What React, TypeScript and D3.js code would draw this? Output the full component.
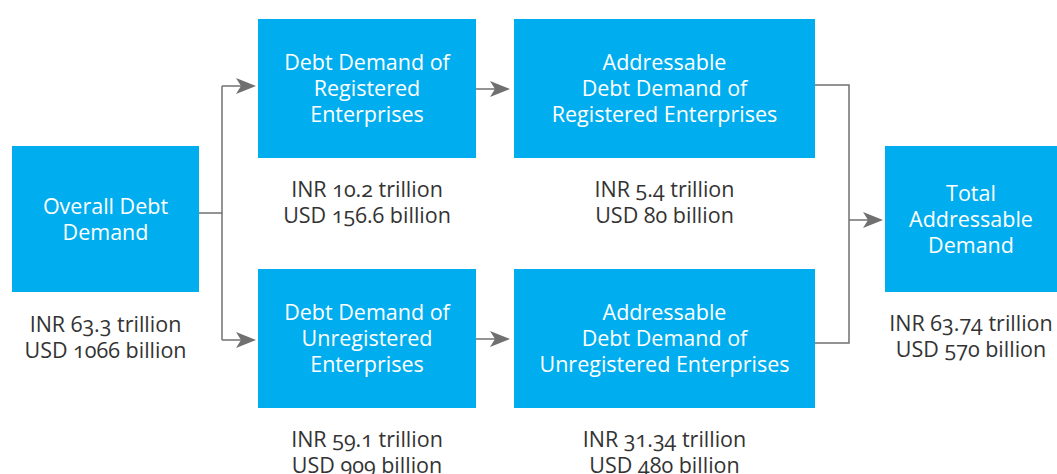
import React from "react";
import * as d3 from "d3";

const nodeIds = ["overall", "reg", "unreg", "addrReg", "addrUnreg", "total"];
const nodeLabels = [
  ["Overall Debt", "Demand"],
  ["Debt Demand of", "Registered", "Enterprises"],
  ["Debt Demand of", "Unregistered", "Enterprises"],
  ["Addressable", "Debt Demand of", "Registered Enterprises"],
  ["Addressable", "Debt Demand of", "Unregistered Enterprises"],
  ["Total", "Addressable", "Demand"],
];
const inrValues = ["INR 63.3 trillion", "INR 10.2 trillion", "INR 59.1 trillion", "INR 5.4 trillion", "INR 31.34 trillion", "INR 63.74 trillion"];
const usdValues = ["USD 1066 billion", "USD 156.6 billion", "USD 909 billion", "USD 80 billion", "USD 480 billion", "USD 570 billion"];
const nodeColumn = [0, 1, 1, 2, 2, 3];
const nodeRow = ["mid", "top", "bottom", "top", "bottom", "mid"];

const W = 1057, H = 474;
const BLUE = "#00AEEF";
const GRAY = "#707070";
const TEXT = "#333333";
const FONT = "'Open Sans', 'Noto Sans', sans-serif";
const FS = 21.5;

// layout scales
const colX0 = d3.scaleOrdinal<number, number>().domain([0, 1, 2, 3]).range([12, 258, 514, 885]);
const colX1 = d3.scaleOrdinal<number, number>().domain([0, 1, 2, 3]).range([199, 476, 815, 1057]);
const rowY0 = d3.scaleOrdinal<string, number>().domain(["top", "mid", "bottom"]).range([19, 146, 269]);
const rowY1 = d3.scaleOrdinal<string, number>().domain(["top", "mid", "bottom"]).range([158, 292, 408]);

const LH = 26;

function box(i: number) {
  const x0 = colX0(nodeColumn[i]);
  const x1 = colX1(nodeColumn[i]);
  const y0 = rowY0(nodeRow[i]);
  const y1 = rowY1(nodeRow[i]);
  return { x0, x1, y0, y1, cx: (x0 + x1) / 2, cy: (y0 + y1) / 2 };
}

function Arrow({ x, y }: { x: number; y: number }) {
  return <path d={`M${x},${y} L${x - 20},${y - 8} L${x - 15},${y} L${x - 20},${y + 8} Z`} fill={GRAY} />;
}

export default function App() {
  const b = nodeIds.map((_, i) => box(i));
  const line = d3.line();
  const splitX = 222;
  const mergeX = 849;
  const o = b[0], r = b[1], u = b[2], ar = b[3], au = b[4], t = b[5];
  const regY = 86, unregY = 340;
  const lines: [number, number][][] = [
    [[o.x1, 213], [splitX, 213]],
    [[splitX, regY], [splitX, unregY]],
    [[splitX, regY], [r.x0 - 6, regY]],
    [[splitX, unregY], [u.x0 - 6, unregY]],
    [[r.x1, 89], [ar.x0 - 6, 89]],
    [[u.x1, 339], [au.x0 - 6, 339]],
    [[ar.x1, 85], [mergeX, 85], [mergeX, 343], [au.x1, 343]],
    [[mergeX, 220], [t.x0 - 6, 220]],
  ];
  const arrows = [
    { x: r.x0 - 2, y: regY },
    { x: u.x0 - 2, y: unregY },
    { x: ar.x0 - 4, y: 89 },
    { x: au.x0 - 4, y: 339 },
    { x: t.x0 - 2, y: 220 },
  ];
  const valueCy = [337, 202, 452, 202, 452, 336];

  return (
    <svg width={W} height={H} style={{ position: "absolute", left: 0, top: 0, background: "#fff" }} fontFamily={FONT}>
      {lines.map((pts, i) => (
        <path key={i} d={line(pts) || ""} fill="none" stroke={GRAY} strokeWidth={1.5} />
      ))}
      {arrows.map((a, i) => (
        <Arrow key={i} x={a.x} y={a.y} />
      ))}
      {b.map((bx, i) => (
        <g key={nodeIds[i]}>
          <rect x={bx.x0} y={bx.y0} width={bx.x1 - bx.x0} height={bx.y1 - bx.y0} fill={BLUE} />
          {nodeLabels[i].map((l, j) => (
            <text
              key={j}
              x={bx.cx}
              y={bx.cy + (j - (nodeLabels[i].length - 1) / 2) * LH}
              dy="0.35em"
              textAnchor="middle"
              fill="#fff"
              fontSize={FS}
            >
              {l}
            </text>
          ))}
          <text x={bx.cx} y={valueCy[i] - LH / 2} dy="0.35em" textAnchor="middle" fill={TEXT} fontSize={FS} style={{ fontVariantNumeric: "oldstyle-nums" }}>
            {inrValues[i]}
          </text>
          <text x={bx.cx} y={valueCy[i] + LH / 2} dy="0.35em" textAnchor="middle" fill={TEXT} fontSize={FS} style={{ fontVariantNumeric: "oldstyle-nums" }}>
            {usdValues[i]}
          </text>
        </g>
      ))}
    </svg>
  );
}
